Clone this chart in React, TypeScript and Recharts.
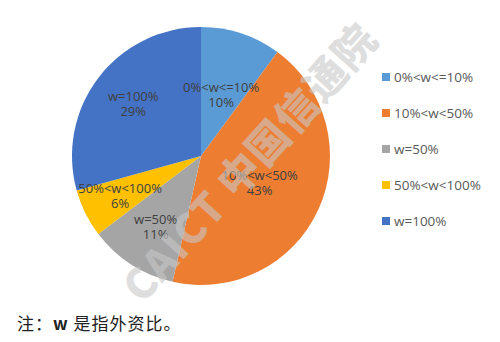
import React from 'react';
import { PieChart, Pie, Cell, Legend } from 'recharts';

// ownership-share buckets and their share of companies (%)
const CATEGORIES = ['0%<w<=10%', '10%<w<50%', 'w=50%', '50%<w<100%', 'w=100%'];
const SHARES = [10, 43, 11, 6, 29];

const COLORS = ['#5B9BD5', '#ED7D31', '#A5A5A5', '#FFC000', '#4472C4'];
// how far out (fraction of the radius) each slice label sits
const LABEL_RADIUS = [0.5, 0.5, 0.65, 0.7, 0.66];

const FONT = '"Open Sans", "Noto Sans CJK SC", sans-serif';
const RAD = Math.PI / 180;

const data = CATEGORIES.map((name, i) => ({ name, value: SHARES[i] }));

const renderLabel = (props: any) => {
  const { cx, cy, midAngle, outerRadius, index, name, value } = props;
  const r = outerRadius * LABEL_RADIUS[index];
  const x = cx + r * Math.cos(-midAngle * RAD);
  const y = cy + r * Math.sin(-midAngle * RAD);
  return (
    <text x={x} y={y} textAnchor="middle" fill="#404040" fontSize={13} fontFamily={FONT}>
      <tspan x={x} dy={-3}>{name}</tspan>
      <tspan x={x} dy={15}>{value}%</tspan>
    </text>
  );
};

const renderLegend = () => (
  <div style={{ fontFamily: FONT, fontSize: 13.5, color: '#595959' }}>
    {CATEGORIES.map((name, i) => (
      <div key={name} style={{ display: 'flex', alignItems: 'center', height: 36 }}>
        <span style={{ width: 8, height: 8, background: COLORS[i], marginRight: 4 }} />
        {name}
      </div>
    ))}
  </div>
);

export default function App() {
  return (
    <div style={{ position: 'absolute', left: 0, top: 0, width: 500, height: 342, background: '#fff', overflow: 'hidden' }}>
      <PieChart width={500} height={342}>
        <Pie
          data={data}
          dataKey="value"
          nameKey="name"
          cx={196}
          cy={151}
          outerRadius={129}
          startAngle={90}
          endAngle={-270}
          stroke="none"
          label={renderLabel}
          labelLine={false}
          isAnimationActive={false}
        >
          {data.map((d, i) => (
            <Cell key={d.name} fill={COLORS[i]} />
          ))}
        </Pie>
        <Legend
          layout="vertical"
          content={renderLegend}
          wrapperStyle={{ left: 382, top: 59, width: 118 }}
        />
      </PieChart>
      {/* diagonal watermark across the pie */}
      <div
        style={{
          position: 'absolute',
          left: 70,
          top: 130,
          transform: 'rotate(-48deg)',
          transformOrigin: 'center',
          fontFamily: '"Noto Sans CJK SC", sans-serif',
          fontWeight: 900,
          fontSize: 42,
          color: 'rgba(200,200,200,0.6)',
          whiteSpace: 'nowrap',
          pointerEvents: 'none',
          letterSpacing: 1,
        }}
      >
        CAICT 中国信通院
      </div>
      <div
        style={{
          position: 'absolute',
          left: 17,
          top: 310,
          fontFamily: '"Noto Sans CJK SC", sans-serif',
          fontSize: 17,
          color: '#222',
          whiteSpace: 'nowrap',
          letterSpacing: 1,
        }}
      >
        注：<b>w</b> 是指外资比。
      </div>
    </div>
  );
}
